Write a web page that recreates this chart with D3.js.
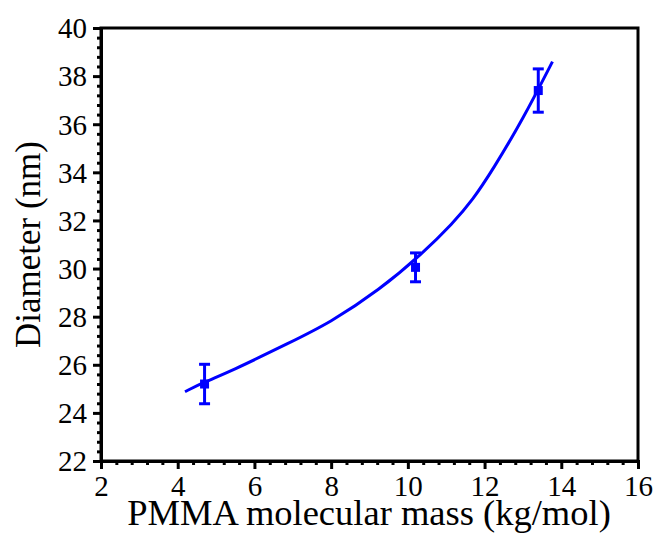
<!DOCTYPE html>
<html><head><meta charset="utf-8">
<script src="https://cdn.jsdelivr.net/npm/d3@7"></script>
<style>body{margin:0;background:#fff}</style>
</head><body>
<svg id="c" width="658" height="538"></svg>
<script>
// data
const massX = [4.7, 10.2, 13.4];
const diameterY = [25.2, 30.05, 37.4];
const errorY = [0.82, 0.6, 0.9];
const fitX = [4.19, 4.71, 5.36, 6.92, 7.96, 9.26, 10.39, 11.17, 11.69, 12.21, 12.99, 13.77];
const fitY = [24.88, 25.30, 25.71, 26.92, 27.74, 29.11, 30.64, 31.88, 32.85, 34.10, 36.18, 38.6];
const xTicks = [2, 4, 6, 8, 10, 12, 14, 16];
const yTicks = [22, 24, 26, 28, 30, 32, 34, 36, 38, 40];

const svg = d3.select("#c");
const L = 101, R = 638, T = 28, B = 461;
const x = d3.scaleLinear().domain([2, 16]).range([L, R]);
const y = d3.scaleLinear().domain([22, 40]).range([B, T]);
const font = "'Liberation Serif', 'Times New Roman', serif";
const blue = "#0000ff";

// frame
svg.append("rect").attr("x", L).attr("y", T).attr("width", R - L).attr("height", B - T)
  .attr("fill", "none").attr("stroke", "#000").attr("stroke-width", 3);

const xMinor = d3.range(2, 16.001, 0.4).filter(v => Math.abs(v / 2 - Math.round(v / 2)) > 1e-6);
const yMinor = d3.range(22, 40.001, 0.4).filter(v => Math.abs(v / 2 - Math.round(v / 2)) > 1e-6);

const xAxisMinor = svg.append("g").attr("transform", `translate(0,${B})`)
  .call(d3.axisBottom(x).tickValues(xMinor).tickSize(4).tickFormat(""));
const yAxisMinor = svg.append("g").attr("transform", `translate(${L},0)`)
  .call(d3.axisLeft(y).tickValues(yMinor).tickSize(4).tickFormat(""));
xAxisMinor.selectAll(".tick text").remove();
yAxisMinor.selectAll(".tick text").remove();
const xAxis = svg.append("g").attr("transform", `translate(0,${B})`)
  .call(d3.axisBottom(x).tickValues(xTicks).tickSize(8).tickPadding(6).tickFormat(d3.format("d")));
const yAxis = svg.append("g").attr("transform", `translate(${L},0)`)
  .call(d3.axisLeft(y).tickValues(yTicks).tickSize(8).tickPadding(6).tickFormat(d3.format("d")));

[xAxis, xAxisMinor, yAxis, yAxisMinor].forEach(g => {
  g.attr("font-family", font);
  g.select(".domain").attr("stroke", "#000").attr("stroke-width", 3);
  g.selectAll(".tick line").attr("stroke", "#000").attr("stroke-width", 3);
  g.selectAll(".tick text").attr("font-family", font).attr("font-size", 29).attr("fill", "#000");
});
xAxis.selectAll(".tick text").attr("dy", "0.71em");
yAxis.selectAll(".tick text").attr("dy", "0.34em");

// fit curve
const line = d3.line().x((d, i) => x(fitX[i])).y((d, i) => y(fitY[i])).curve(d3.curveBasis);
svg.append("path").datum(fitX).attr("d", line).attr("fill", "none")
  .attr("stroke", blue).attr("stroke-width", 3);

// error bars
const eb = svg.append("g").attr("stroke", blue).attr("stroke-width", 3);
massX.forEach((m, i) => {
  const cx = x(m);
  const y1 = y(diameterY[i] + errorY[i]), y2 = y(diameterY[i] - errorY[i]);
  eb.append("line").attr("x1", cx).attr("x2", cx).attr("y1", y1).attr("y2", y2);
  eb.append("line").attr("x1", cx - 5.5).attr("x2", cx + 5.5).attr("y1", y1).attr("y2", y1);
  eb.append("line").attr("x1", cx - 5.5).attr("x2", cx + 5.5).attr("y1", y2).attr("y2", y2);
});
// markers
svg.append("g").selectAll("rect").data(massX).join("rect")
  .attr("x", (d) => x(d) - 4.5).attr("y", (d, i) => y(diameterY[i]) - 4.5)
  .attr("width", 9).attr("height", 9).attr("fill", blue);

// titles
svg.append("text").attr("x", 369).attr("y", 525).attr("text-anchor", "middle")
  .attr("font-family", font).attr("font-size", 36.5).attr("fill", "#000")
  .text("PMMA molecular mass (kg/mol)");
svg.append("text").attr("transform", `translate(40,${(T + B) / 2}) rotate(-90)`)
  .attr("text-anchor", "middle").attr("font-family", font).attr("font-size", 35).attr("fill", "#000")
  .text("Diameter (nm)");
</script>
</body></html>
